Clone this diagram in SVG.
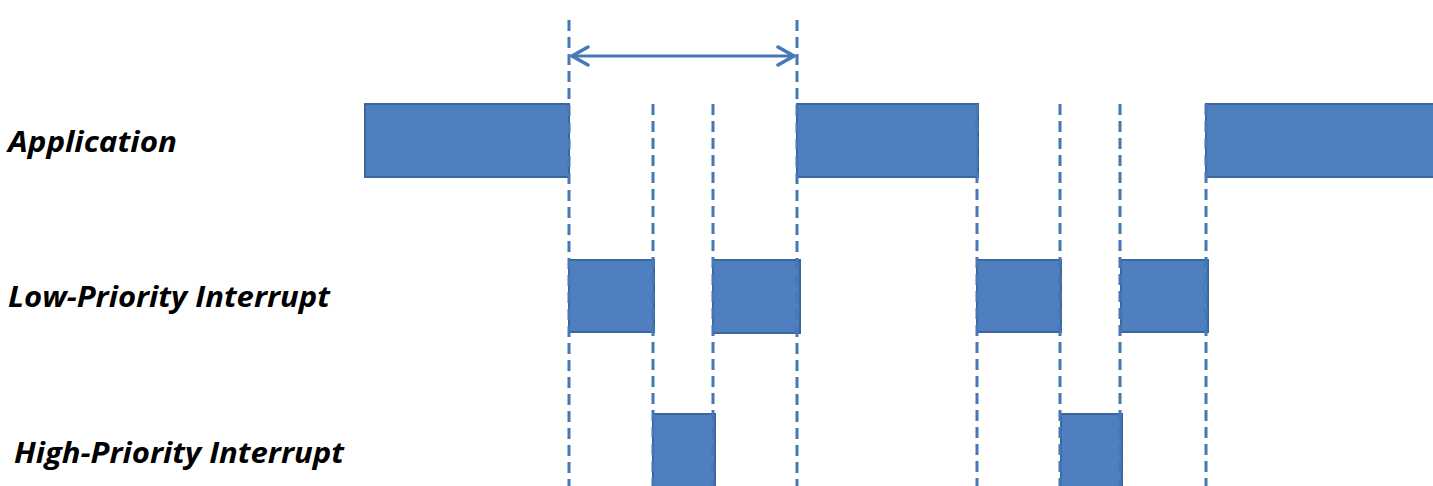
<svg xmlns="http://www.w3.org/2000/svg" width="1433" height="486" viewBox="0 0 1433 486">
<defs>
<style>
.bar{fill:#4F7FBE;stroke:#3A679F;stroke-width:2}
.dash{stroke:#4677B6;stroke-width:3;stroke-dasharray:11 6;fill:none}
.lbl{font-family:"Open Sans","Liberation Sans",sans-serif;font-weight:bold;font-style:italic;font-size:29px;fill:#000}
</style>
<marker id="ah" viewBox="0 0 20 22" refX="19" refY="11" markerWidth="20" markerHeight="22" markerUnits="userSpaceOnUse" orient="auto-start-reverse">
<path d="M2,2 L18,11 L2,20" fill="none" stroke="#4677B6" stroke-width="3.5" stroke-linecap="round" stroke-linejoin="round"/>
</marker>
</defs>
<rect width="1433" height="486" fill="#fff"/>
<g id="labels">
<text class="lbl" x="8" y="152" textLength="169" lengthAdjust="spacingAndGlyphs">Application</text>
<text class="lbl" x="8" y="307" textLength="322" lengthAdjust="spacingAndGlyphs">Low-Priority Interrupt</text>
<text class="lbl" x="14" y="463" textLength="330" lengthAdjust="spacingAndGlyphs">High-Priority Interrupt</text>
</g>
<g id="application">
<rect class="bar" x="365" y="104" width="204" height="73"/>
<rect class="bar" x="797" y="104" width="181" height="73"/>
<rect class="bar" x="1206" y="104" width="232" height="73"/>
</g>
<g id="low-priority">
<rect class="bar" x="569" y="260" width="85" height="72"/>
<rect class="bar" x="713" y="260" width="87" height="73"/>
<rect class="bar" x="977" y="260" width="84" height="72"/>
<rect class="bar" x="1121" y="260" width="87" height="72"/>
</g>
<g id="high-priority">
<rect class="bar" x="653" y="414" width="62" height="80"/>
<rect class="bar" x="1061" y="414" width="61" height="80"/>
</g>
<g id="connectors">
<line class="dash" x1="569" y1="20" x2="569" y2="486"/>
<line class="dash" x1="797" y1="20" x2="797" y2="486"/>
<line class="dash" x1="653" y1="104" x2="653" y2="486"/>
<line class="dash" x1="713" y1="104" x2="713" y2="486"/>
<line class="dash" x1="977" y1="104" x2="977" y2="486"/>
<line class="dash" x1="1060" y1="104" x2="1060" y2="486"/>
<line class="dash" x1="1120" y1="104" x2="1120" y2="486"/>
<line class="dash" x1="1206" y1="104" x2="1206" y2="486"/>
<line x1="571" y1="56" x2="795" y2="56" stroke="#4677B6" stroke-width="3" marker-start="url(#ah)" marker-end="url(#ah)"/>
</g>
</svg>
